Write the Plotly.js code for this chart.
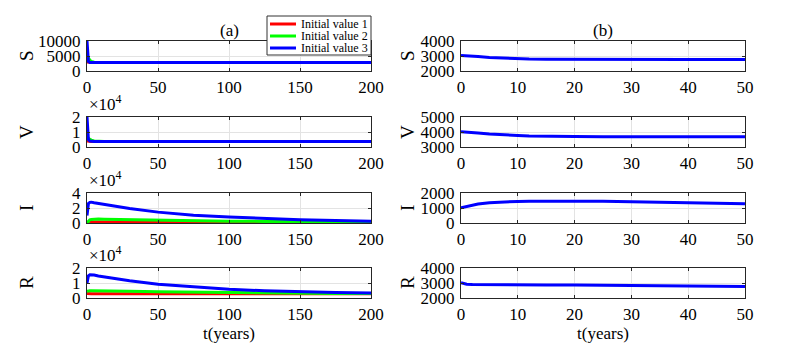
<!DOCTYPE html>
<html>
<head>
<meta charset="utf-8">
<script src="https://cdn.plot.ly/plotly-3.0.1.min.js"></script>
<style>
  html, body { margin: 0; padding: 0; background: #fff; }
  #chart { width: 793px; height: 351px; }
</style>
</head>
<body>
<div id="chart"></div>
<script>
// panel (a): three initial values, t = 0..200
const tA = [0, 0.5, 1, 2, 3, 5, 8, 12, 20, 30, 50, 75, 100, 125, 150, 175, 200];
const sA1 = [3000, 2950, 2900, 2850, 2820, 2800, 2800, 2800, 2800, 2800, 2800, 2800, 2800, 2800, 2800, 2800, 2800];
const sA2 = [5000, 4600, 4200, 3600, 3200, 2900, 2820, 2800, 2800, 2800, 2800, 2800, 2800, 2800, 2800, 2800, 2800];
const sA3 = [10000, 4500, 3200, 2850, 2800, 2800, 2800, 2800, 2800, 2800, 2800, 2800, 2800, 2800, 2800, 2800, 2800];
const vA1 = [4000, 3900, 3850, 3800, 3750, 3720, 3700, 3700, 3700, 3700, 3700, 3700, 3700, 3700, 3700, 3700, 3700];
const vA2 = [6000, 6000, 5800, 5200, 4600, 4000, 3750, 3700, 3700, 3700, 3700, 3700, 3700, 3700, 3700, 3700, 3700];
const vA3 = [20000, 8000, 5000, 4000, 3800, 3750, 3700, 3700, 3700, 3700, 3700, 3700, 3700, 3700, 3700, 3700, 3700];
const iA1 = [1000, 1100, 1200, 1300, 1350, 1400, 1440, 1455, 1465, 1420, 1300, 1280, 1270, 1260, 1250, 1250, 1250];
const iA2 = [0, 1500, 2800, 4200, 4800, 5200, 5200, 5000, 4700, 4300, 3700, 3000, 2500, 2100, 1800, 1600, 1400];
const iA3 = [10000, 22000, 26000, 27500, 27800, 27050, 26000, 24600, 22000, 19200, 14500, 10500, 8000, 6000, 4500, 3300, 2400];
const rA1 = [3000, 2920, 2900, 2895, 2890, 2885, 2880, 2870, 2860, 2830, 2780, 2780, 2780, 2780, 2780, 2780, 2780];
const rA2 = [4500, 4700, 4800, 4800, 4800, 4750, 4700, 4650, 4550, 4450, 4200, 3900, 3600, 3400, 3200, 3050, 2950];
const rA3 = [10000, 13000, 14800, 15500, 15500, 15300, 14660, 14030, 12840, 11500, 9200, 7300, 5800, 4800, 4100, 3600, 3300];

// panel (b): t = 0..50
const tB = [0, 1, 2, 3, 5, 7, 10, 12, 15, 20, 25, 30, 35, 40, 45, 50];
const sB = [3040, 3030, 3000, 2960, 2900, 2860, 2820, 2800, 2785, 2770, 2765, 2760, 2760, 2760, 2760, 2760];
const vB = [4020, 4010, 3980, 3940, 3870, 3810, 3770, 3740, 3715, 3700, 3690, 3685, 3680, 3680, 3680, 3680];
const iB = [1020, 1110, 1190, 1260, 1350, 1400, 1440, 1455, 1462, 1465, 1450, 1420, 1390, 1360, 1320, 1290];
const rB = [3020, 2920, 2900, 2895, 2890, 2885, 2880, 2875, 2870, 2860, 2845, 2830, 2810, 2795, 2780, 2760];

const seriesNames = ['Initial value 1', 'Initial value 2', 'Initial value 3'];
const seriesColors = ['#ff0000', '#00ff00', '#0000ff'];
const rowLabels = ['S', 'V', 'I', 'R'];

const leftRows = [[sA1, sA2, sA3], [vA1, vA2, vA3], [iA1, iA2, iA3], [rA1, rA2, rA3]];
const rightRows = [sB, vB, iB, rB];

const W = 793, H = 351;
const serif = "'Liberation Serif', 'Times New Roman', serif";
// plot area rows in pixels (top, bottom)
const rowPx = [[41, 71], [117, 147], [193, 223], [268, 298]];
const leftPx = [87, 371], rightPx = [461, 745];

const traces = [];
const layout = {
  width: W, height: H,
  margin: { l: 0, r: 0, t: 0, b: 0 },
  paper_bgcolor: '#fff', plot_bgcolor: '#fff',
  font: { family: serif, size: 16, color: '#000' },
  showlegend: false,
  annotations: [],
  shapes: []
};

const leftY = [
  { range: [0, 10000], tickvals: [0, 5000, 10000], ticktext: ['0', '5000', '10000'] },
  { range: [0, 20000], tickvals: [0, 10000, 20000], ticktext: ['0', '1', '2'], exp: true },
  { range: [0, 40000], tickvals: [0, 20000, 40000], ticktext: ['0', '2', '4'], exp: true },
  { range: [0, 20000], tickvals: [0, 10000, 20000], ticktext: ['0', '1', '2'], exp: true }
];
const rightY = [
  { range: [2000, 4000], tickvals: [2000, 3000, 4000] },
  { range: [3000, 5000], tickvals: [3000, 4000, 5000] },
  { range: [0, 2000], tickvals: [0, 1000, 2000] },
  { range: [2000, 4000], tickvals: [2000, 3000, 4000] }
];

function axisBase() {
  return {
    showline: true, linecolor: '#262626', linewidth: 1, mirror: 'ticks',
    ticks: 'inside', ticklen: 3, tickcolor: '#262626',
    showgrid: true, gridcolor: '#e3e3e3', gridwidth: 1,
    zeroline: false, tickfont: { family: serif, size: 17, color: '#000' }
  };
}

let n = 1;
for (let r = 0; r < 4; r++) {
  const yd = [1 - rowPx[r][1] / H, 1 - rowPx[r][0] / H];
  [0, 1].forEach(side => {
    const k = n === 1 ? '' : String(n);
    const xs = side === 0 ? leftPx : rightPx;
    const xa = Object.assign(axisBase(), {
      domain: [xs[0] / W, xs[1] / W], anchor: 'y' + k,
      range: side === 0 ? [0, 200] : [0, 50], dtick: side === 0 ? 50 : 10, tick0: 0,
      ticklabelstandoff: 1
    });
    const yc = side === 0 ? leftY[r] : rightY[r];
    const ya = Object.assign(axisBase(), {
      domain: yd, anchor: 'x' + k, range: yc.range, tickvals: yc.tickvals,
      ticklabelstandoff: 2
    });
    if (yc.ticktext) ya.ticktext = yc.ticktext;
    if (r === 3) xa.title = { text: 't(years)', font: { family: serif, size: 17 }, standoff: 2 };
    layout['xaxis' + k] = xa;
    layout['yaxis' + k] = ya;

    if (side === 0) {
      leftRows[r].forEach((ys, j) => {
        traces.push({
          x: tA, y: ys, xaxis: 'x' + k, yaxis: 'y' + k, type: 'scatter', mode: 'lines',
          name: seriesNames[j], line: { color: seriesColors[j], width: 3 }
        });
      });
      if (yc.exp) {
        layout.annotations.push({
          xref: 'paper', yref: 'paper', x: 87 / W, y: 1 - (rowPx[r][0] - 1) / H,
          xanchor: 'left', yanchor: 'bottom', showarrow: false,
          text: '\u00d710<sup>4</sup>', font: { family: serif, size: 17 }
        });
      }
    } else {
      traces.push({
        x: tB, y: rightRows[r], xaxis: 'x' + k, yaxis: 'y' + k, type: 'scatter', mode: 'lines',
        line: { color: '#0000ff', width: 3 }
      });
    }
    // row label
    layout.annotations.push({
      xref: 'paper', yref: 'paper', x: (side === 0 ? 26 : 407) / W,
      y: 1 - (rowPx[r][0] + rowPx[r][1]) / 2 / H,
      xanchor: 'center', yanchor: 'middle', textangle: -90, showarrow: false,
      text: rowLabels[r], font: { family: serif, size: 19 }
    });
    n++;
  });
}

layout.annotations.push(
  { xref: 'paper', yref: 'paper', x: 229 / W, y: 1 - 31 / H, xanchor: 'center', yanchor: 'middle',
    showarrow: false, text: '(a)', font: { family: serif, size: 17 } },
  { xref: 'paper', yref: 'paper', x: 603 / W, y: 1 - 31 / H, xanchor: 'center', yanchor: 'middle',
    showarrow: false, text: '(b)', font: { family: serif, size: 17 } }
);

// legend box (drawn by hand so the rows sit as tight as the reference)
const legBox = [267, 16, 371, 55];
const legRowY = [24, 36, 48];
layout.shapes.push({
  type: 'rect', xref: 'paper', yref: 'paper', layer: 'above',
  x0: legBox[0] / W, x1: legBox[2] / W, y0: 1 - legBox[3] / H, y1: 1 - legBox[1] / H,
  fillcolor: '#fff', line: { color: '#333', width: 1 }
});
seriesNames.forEach((name, j) => {
  layout.shapes.push({
    type: 'line', xref: 'paper', yref: 'paper', layer: 'above',
    x0: 270 / W, x1: 296 / W, y0: 1 - legRowY[j] / H, y1: 1 - legRowY[j] / H,
    line: { color: seriesColors[j], width: 3 }
  });
  layout.annotations.push({
    xref: 'paper', yref: 'paper', x: 299 / W, y: 1 - legRowY[j] / H,
    xanchor: 'left', yanchor: 'middle', showarrow: false,
    text: name, font: { family: serif, size: 12 }
  });
});

Plotly.newPlot('chart', traces, layout, { displayModeBar: false, staticPlot: true });
</script>
</body>
</html>
